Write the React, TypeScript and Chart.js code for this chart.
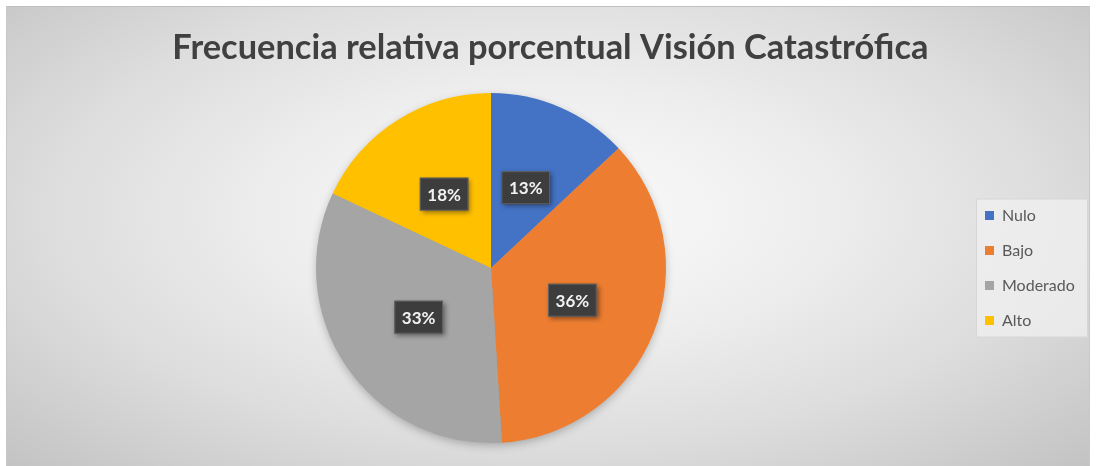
import React, { useEffect, useRef } from "react";
import { Chart, registerables } from "chart.js";

Chart.register(...registerables);

const categories = ["Nulo", "Bajo", "Moderado", "Alto"];
const percentages = [13, 36, 33, 18];
const sliceColors = ["#4472C4", "#ED7D31", "#A5A5A5", "#FFC000"];
const titleText = "Frecuencia relativa porcentual Visión Catastrófica";

const W = 1084;
const H = 460;

export default function App() {
  const ref = useRef<HTMLCanvasElement>(null);

  useEffect(() => {
    const canvas = ref.current!;
    const m = document.createElement("canvas").getContext("2d")!;
    m.font = "bold 100px Lato";
    const w100 = m.measureText(titleText).width;
    const titleSize = Math.round(((100 * 757) / w100) * 10) / 10;
    const titlePadTop = 21;
    const titlePadBottom = Math.max(0, 87 - titlePadTop - 1.2 * titleSize);
    const legendFont = 16;
    m.font = `${legendFont}px Lato`;
    const legendTw = Math.max(...categories.map((c) => m.measureText(c).width));
    const legendPad = 19;
    const box = 9;
    const legendWidth = legendPad + box + legendFont / 2 + legendTw;
    const legendLeft = 960;
    const padRight = Math.max(0, W - legendLeft - legendWidth - 10);

    const pieShadow = {
      id: "pieShadow",
      beforeDatasetsDraw(chart: any) {
        const arc = chart.getDatasetMeta(0).data[0];
        if (!arc) return;
        const c = chart.ctx;
        c.save();
        c.shadowColor = "rgba(0,0,0,0.28)";
        c.shadowBlur = 10;
        c.shadowOffsetY = 3;
        c.beginPath();
        c.arc(arc.x, arc.y, arc.outerRadius - 1, 0, Math.PI * 2);
        c.fillStyle = "#a0a0a0";
        c.fill();
        c.restore();
      },
    };

    const legendBg = {
      id: "legendBg",
      beforeDraw(chart: any) {
        const lg = chart.legend;
        if (!lg) return;
        const c = chart.ctx;
        const step = legendFont + legendPad;
        const colH = categories.length * step;
        const y0 = (lg.top + legendPad + lg.bottom - colH) / 2;
        const top = y0 + legendFont / 2 - 17;
        const bottom = y0 + (categories.length - 1) * step + legendFont / 2 + 17;
        const left = lg.left + legendPad - 9;
        const right = W - 2;
        c.save();
        c.fillStyle = "rgba(240,240,240,0.75)";
        c.fillRect(left, top, right - left, bottom - top);
        c.strokeStyle = "rgba(200,200,200,0.6)";
        c.lineWidth = 1;
        c.strokeRect(left + 0.5, top + 0.5, right - left - 1, bottom - top - 1);
        c.restore();
      },
    };

    const dataLabels = {
      id: "dataLabelsBox",
      afterDatasetsDraw(chart: any) {
        const c = chart.ctx;
        const meta = chart.getDatasetMeta(0);
        const vals = chart.data.datasets[0].data as number[];
        c.save();
        c.font = "bold 17px Lato";
        c.textAlign = "center";
        c.textBaseline = "middle";
        meta.data.forEach((arc: any, i: number) => {
          const p = arc.tooltipPosition();
          const text = `${vals[i]}%`;
          const tw = c.measureText(text).width;
          const bw = tw + 15;
          const bh = 33;
          c.save();
          c.shadowColor = "rgba(0,0,0,0.45)";
          c.shadowBlur = 5;
          c.shadowOffsetX = 2;
          c.shadowOffsetY = 2;
          c.fillStyle = "#3d3d3d";
          c.fillRect(p.x - bw / 2, p.y - bh / 2, bw, bh);
          c.restore();
          c.strokeStyle = "rgba(120,120,120,0.6)";
          c.lineWidth = 1;
          c.strokeRect(p.x - bw / 2 + 0.5, p.y - bh / 2 + 0.5, bw - 1, bh - 1);
          c.fillStyle = "#f2f2f2";
          c.fillText(text, p.x, p.y + 1);
        });
        c.restore();
      },
    };

    const chart = new Chart(canvas, {
      type: "pie",
      data: {
        labels: categories,
        datasets: [
          {
            data: percentages,
            backgroundColor: sliceColors,
            borderWidth: 0,
            hoverOffset: 0,
          },
        ],
      },
      options: {
        responsive: true,
        maintainAspectRatio: false,
        animation: false,
        layout: { padding: { left: 10, right: padRight, top: 0, bottom: 23 } },
        plugins: {
          title: {
            display: true,
            text: titleText,
            color: "#404040",
            font: { family: "Lato", weight: "bold", size: titleSize, lineHeight: 1.2 },
            padding: { top: titlePadTop, bottom: titlePadBottom },
          },
          legend: {
            position: "right",
            align: "center",
            fullSize: false,
            labels: {
              boxWidth: box,
              boxHeight: box,
              padding: legendPad,
              color: "#595959",
              font: { family: "Lato", size: legendFont },
            },
          },
          tooltip: { enabled: false },
        },
      },
      plugins: [pieShadow, legendBg, dataLabels],
    });
    return () => chart.destroy();
  }, []);

  return (
    <div style={{ position: "fixed", left: 0, top: 0, width: 1096, height: 466, background: "#ffffff" }}>
      <div
        style={{
          position: "absolute",
          left: 6,
          top: 6,
          width: W,
          height: H,
          background:
            "radial-gradient(ellipse farthest-corner at 50% 45%, #fbfbfb 0%, #eeeeee 35%, #dddddd 65%, #c3c3c3 100%)",
        }}
      >
        <canvas ref={ref} />
      </div>
      <div
        style={{
          position: "absolute",
          left: 6,
          top: 6,
          width: W,
          height: H,
          boxSizing: "border-box",
          borderTop: "1px solid #bfbfbf",
          borderLeft: "1px solid #c8c8c8",
          borderRight: "1px solid #c8c8c8",
          pointerEvents: "none",
        }}
      />
    </div>
  );
}
